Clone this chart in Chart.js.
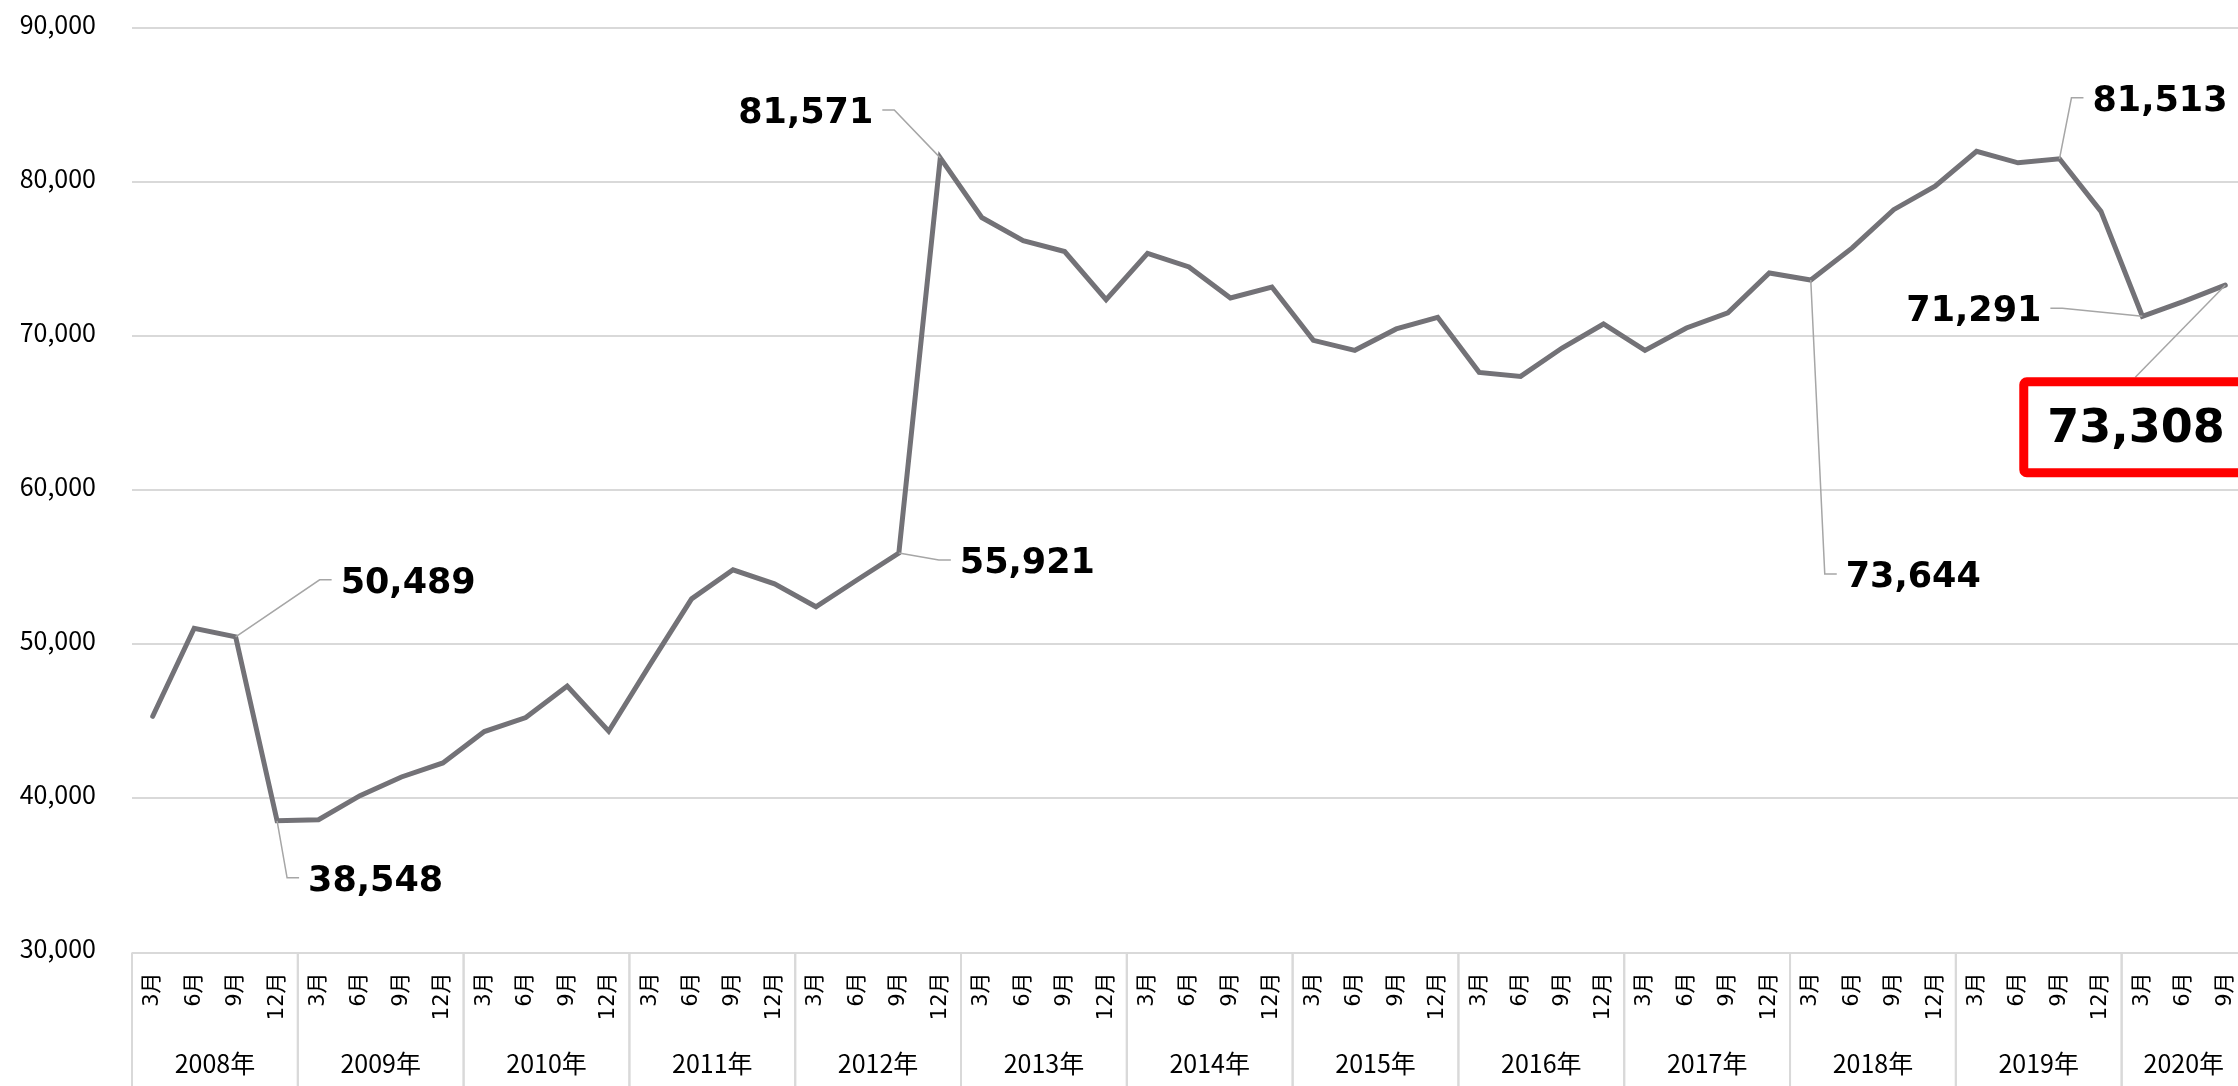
<!DOCTYPE html>
<html lang="ja">
<head>
<meta charset="UTF-8">
<title>四半期推移</title>
<script src="https://cdn.jsdelivr.net/npm/chart.js"></script>
<style>
    html, body {
        margin: 0;
        padding: 0;
        background: #fff;
        overflow: hidden;
    }
    #wrap {
        width: 2250px;
        height: 1092px;
    }
</style>
</head>
<body>
<div id="wrap"><canvas id="chart"></canvas></div>

<script>
// 年と四半期（月）のラベル
const years = ['2008年', '2009年', '2010年', '2011年', '2012年', '2013年', '2014年',
               '2015年', '2016年', '2017年', '2018年', '2019年', '2020年'];
const quarters = ['3月', '6月', '9月', '12月'];

// 値（2008年3月〜2020年9月）
const values = [
    45330, 51040, 50489, 38548,
    38620, 40180, 41390, 42300,
    44340, 45250, 47290, 44360,
    48700, 52950, 54840, 53930,
    52440, 54190, 55921, 81571,
    77700, 76200, 75490, 72370,
    75380, 74490, 72480, 73190,
    69730, 69080, 70470, 71220,
    67650, 67390, 69230, 70790,
    69080, 70530, 71510, 74100,
    73644, 75730, 78210, 79730,
    82000, 81250, 81513, 78100,
    71291, 72260, 73308
];

// 縦軸の目盛り
const yTicks = [30000, 40000, 50000, 60000, 70000, 80000, 90000];

// 数値ラベルを付ける点
const calloutIndex = [2, 3, 18, 19, 40, 46, 48, 50];

// ラベルの置き方（点からのずれ, px）
const calloutPlace = [
    { side: 'right', dx: 105, dy: -57 },
    { side: 'right', dx: 31, dy: 57 },
    { side: 'right', dx: 61, dy: 7 },
    { side: 'left', dx: -67, dy: -48 },
    { side: 'right', dx: 35, dy: 294 },
    { side: 'right', dx: 33, dy: -61 },
    { side: 'left', dx: -101, dy: -8 },
    { side: 'box', dx: -206, dy: 92 }
];

const labels = [];
for (let i = 0; i < values.length; i++) {
    labels.push(quarters[i % 4]);
}

const fmt = v => v.toLocaleString('en-US');

// 年のくくり（縦線と年ラベル）
const yearPlugin = {
    id: 'yearGroups',
    afterDraw(chart) {
        const ctx = chart.ctx;
        const xs = chart.scales.x;
        const band = xs.getPixelForValue(1) - xs.getPixelForValue(0);
        ctx.save();
        ctx.strokeStyle = '#d9d9d9';
        ctx.lineWidth = 2;
        ctx.fillStyle = '#000';
        ctx.font = '25px "Noto Sans CJK JP"';
        ctx.textAlign = 'center';
        ctx.textBaseline = 'middle';
        years.forEach((name, k) => {
            const first = k * 4;
            const last = Math.min(first + 3, values.length - 1);
            const left = xs.getPixelForValue(first) - band / 2;
            const right = xs.getPixelForValue(last) + band / 2;
            ctx.beginPath();
            ctx.moveTo(left, xs.top);
            ctx.lineTo(left, chart.height);
            ctx.moveTo(right, xs.top);
            ctx.lineTo(right, chart.height);
            ctx.stroke();
            const cx = (xs.getPixelForValue(first) + xs.getPixelForValue(last)) / 2;
            ctx.fillText(name, cx, xs.top + 111);
        });
        ctx.restore();
    }
};

// 数値ラベルと引き出し線
const calloutPlugin = {
    id: 'callouts',
    afterDatasetsDraw(chart) {
        const ctx = chart.ctx;
        const pts = chart.getDatasetMeta(0).data;
        ctx.save();
        calloutIndex.forEach((idx, n) => {
            const p = pts[idx];
            const pl = calloutPlace[n];
            const text = fmt(values[idx]);
            const lx = p.x + pl.dx;
            const ly = p.y + pl.dy;
            ctx.strokeStyle = '#a6a6a6';
            ctx.lineWidth = 1.5;
            ctx.fillStyle = '#000';
            if (pl.side === 'box') {
                // 最新値は赤枠で強調
                ctx.beginPath();
                ctx.moveTo(p.x, p.y);
                ctx.lineTo(lx + 116, ly);
                ctx.stroke();
                ctx.strokeStyle = '#ff0000';
                ctx.lineWidth = 9;
                ctx.beginPath();
                ctx.roundRect(lx + 4.5, ly + 4.5, 260, 91, 3);
                ctx.stroke();
                ctx.font = 'bold 46px "DejaVu Sans"';
                ctx.textAlign = 'left';
                ctx.textBaseline = 'alphabetic';
                ctx.fillText(text, lx + 28, ly + 48.5 + 46 * 0.365);
            } else {
                const dir = pl.side === 'right' ? -1 : 1;
                ctx.beginPath();
                ctx.moveTo(p.x, p.y);
                ctx.lineTo(lx + dir * 21, ly);
                ctx.lineTo(lx + dir * 9, ly);
                ctx.stroke();
                ctx.font = 'bold 35px "DejaVu Sans"';
                ctx.textAlign = pl.side === 'right' ? 'left' : 'right';
                ctx.textBaseline = 'alphabetic';
                ctx.fillText(text, lx, ly + 35 * 0.365);
            }
        });
        ctx.restore();
    }
};

const ctx = document.getElementById('chart').getContext('2d');
const chart = new Chart(ctx, {
    type: 'line',
    data: {
        labels: labels,
        datasets: [{
            data: values,
            borderColor: '#737277',
            borderWidth: 5,
            borderJoinStyle: 'miter',
            borderCapStyle: 'round',
            pointRadius: 0,
            tension: 0,
            fill: false
        }]
    },
    options: {
        responsive: true,
        maintainAspectRatio: false,
        animation: false,
        devicePixelRatio: 1,
        layout: {
            padding: { top: 28, right: 4, bottom: 0, left: 0 }
        },
        plugins: {
            legend: { display: false },
            tooltip: { enabled: false }
        },
        scales: {
            x: {
                type: 'category',
                offset: true,
                grid: { display: false, drawTicks: false },
                border: { display: false },
                ticks: {
                    autoSkip: false,
                    minRotation: 90,
                    maxRotation: 90,
                    padding: 20,
                    color: '#000',
                    font: { family: '"DejaVu Sans", "Noto Sans CJK JP"', size: 21 }
                },
                afterFit(scale) {
                    scale.height = 1092 - 952.5;
                    scale.paddingLeft = 0;
                    scale.paddingRight = 0;
                }
            },
            y: {
                min: yTicks[0],
                max: yTicks[yTicks.length - 1],
                grid: { color: '#d9d9d9', lineWidth: 2, drawTicks: false },
                border: { display: false },
                afterBuildTicks(scale) {
                    scale.ticks = yTicks.map(v => ({ value: v }));
                },
                ticks: {
                    padding: 36,
                    labelOffset: -4,
                    color: '#000',
                    font: { family: '"Noto Sans CJK JP"', size: 25 },
                    callback: v => fmt(v)
                },
                afterFit(scale) {
                    scale.width = 132;
                    scale.paddingTop = 0;
                    scale.paddingBottom = 0;
                }
            }
        }
    },
    plugins: [yearPlugin, calloutPlugin]
});
</script>
</body>
</html>
